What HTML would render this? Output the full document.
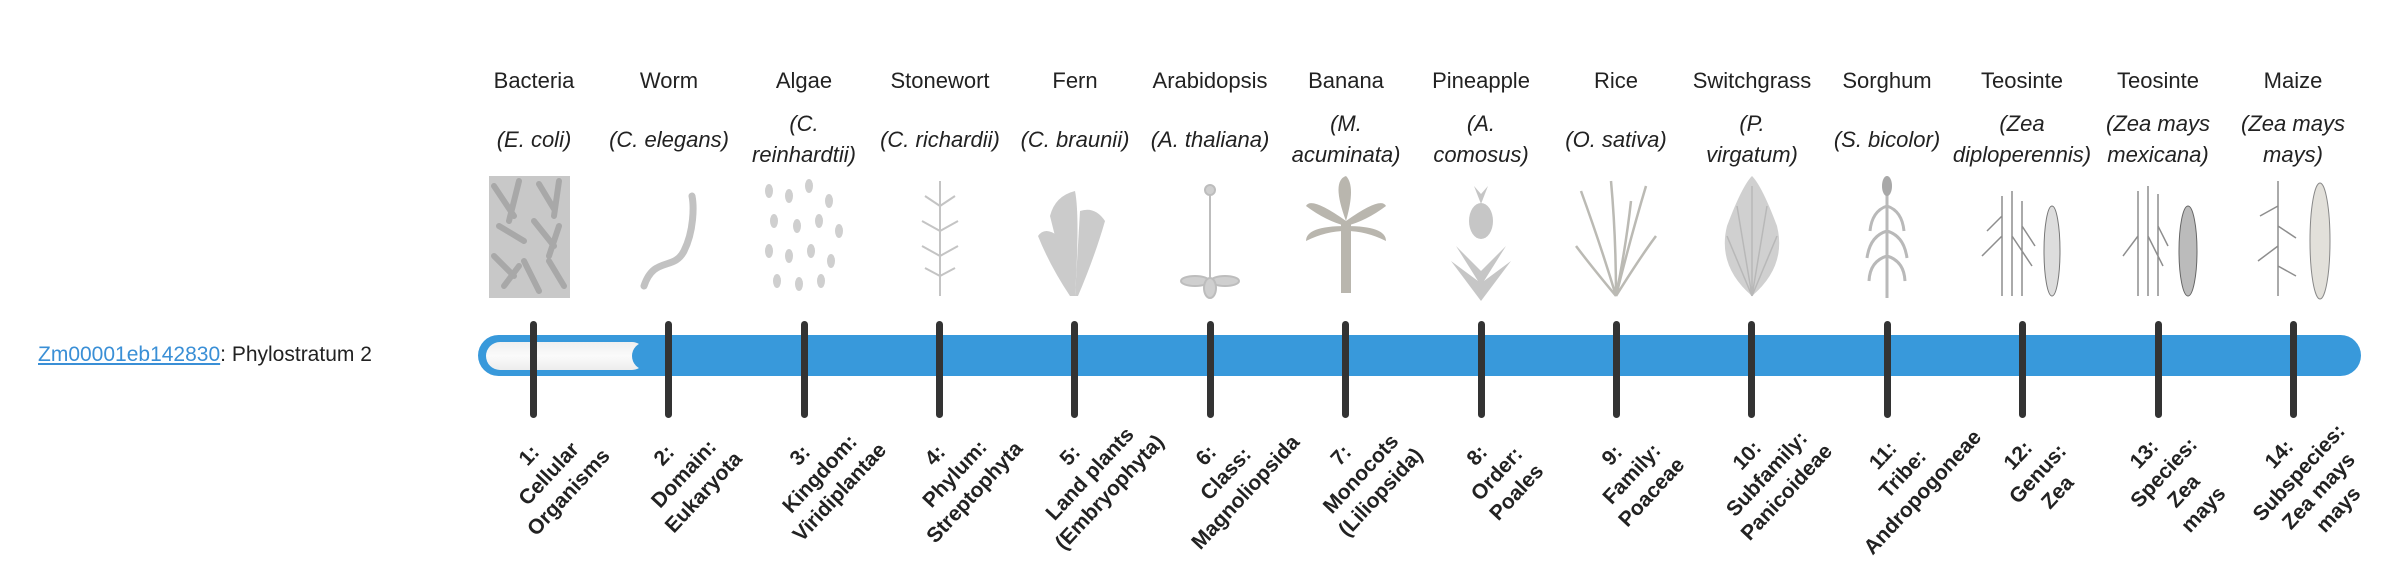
<!DOCTYPE html>
<html><head><meta charset="utf-8"><style>
html,body{margin:0;padding:0;background:#fff;width:2400px;height:580px;overflow:hidden;position:relative;font-family:"Liberation Sans",sans-serif;color:#222}
.h{position:absolute;top:67px;width:140px;text-align:center;font-size:22px;line-height:28px}
.s{position:absolute;top:104px;height:70px;width:150px;display:flex;align-items:center;justify-content:center;text-align:center;font-size:22px;line-height:31px;font-style:italic}
.img{position:absolute;top:176px;width:90px;height:126px}
.t{position:absolute;top:321px;width:7px;height:97px;background:#333;border-radius:4px}
.l{position:absolute;top:474px;width:180px;text-align:center;font-weight:bold;font-size:21px;line-height:27px;color:#222;transform:translate(-50%,-50%) rotate(-47deg)}
</style></head><body>
<div style="position:absolute;left:38px;top:341px;font-size:21px;line-height:28px"><span style="color:#3a8fd6;text-decoration:underline">Zm00001eb142830</span>: Phylostratum 2</div>
<div style="position:absolute;left:478px;top:335px;width:1883px;height:41px;background:#3899db;border-radius:21px"></div>
<div style="position:absolute;left:486px;top:342px;width:160px;height:28px;background:linear-gradient(#f0f0f0,#fafafa 50%,#ededed);border-radius:14px"></div>
<div style="position:absolute;left:632px;top:342px;width:30px;height:28px;background:#3899db;border-radius:14px 0 0 14px"></div>

<div class="h" style="left:464px">Bacteria</div><div class="s" style="left:459px">(E. coli)</div>
<div class="h" style="left:599px">Worm</div><div class="s" style="left:594px">(C. elegans)</div>
<div class="h" style="left:734px">Algae</div><div class="s" style="left:729px">(C.<br>reinhardtii)</div>
<div class="h" style="left:870px">Stonewort</div><div class="s" style="left:865px">(C. richardii)</div>
<div class="h" style="left:1005px">Fern</div><div class="s" style="left:1000px">(C. braunii)</div>
<div class="h" style="left:1140px">Arabidopsis</div><div class="s" style="left:1135px">(A. thaliana)</div>
<div class="h" style="left:1276px">Banana</div><div class="s" style="left:1271px">(M.<br>acuminata)</div>
<div class="h" style="left:1411px">Pineapple</div><div class="s" style="left:1406px">(A.<br>comosus)</div>
<div class="h" style="left:1546px">Rice</div><div class="s" style="left:1541px">(O. sativa)</div>
<div class="h" style="left:1682px">Switchgrass</div><div class="s" style="left:1677px">(P.<br>virgatum)</div>
<div class="h" style="left:1817px">Sorghum</div><div class="s" style="left:1812px">(S. bicolor)</div>
<div class="h" style="left:1952px">Teosinte</div><div class="s" style="left:1947px">(Zea<br>diploperennis)</div>
<div class="h" style="left:2088px">Teosinte</div><div class="s" style="left:2083px">(Zea mays<br>mexicana)</div>
<div class="h" style="left:2223px">Maize</div><div class="s" style="left:2218px">(Zea mays<br>mays)</div>

<svg class="img" style="left:489px" viewBox="0 0 90 126"><rect x="0" y="0" width="81" height="122" fill="#c8c8c8"/><g stroke="#a8a8a8" stroke-width="6" stroke-linecap="round"><path d="M5 10l20 30M30 5l-10 40M50 8l15 25M70 5l-5 35M10 50l25 15M45 45l20 25M70 50l-10 30M5 80l20 20M35 85l15 30M60 85l15 25M15 110l15-20"/></g></svg>
<svg class="img" style="left:624px" viewBox="0 0 90 126"><path d="M20 110 C30 80,50 95,60 75 S70 30,68 20" stroke="#c2c2c2" stroke-width="7" fill="none" stroke-linecap="round"/></svg>
<svg class="img" style="left:759px" viewBox="0 0 90 126"><g fill="#cfcfcf"><ellipse cx="10" cy="15" rx="4" ry="7"/><ellipse cx="30" cy="20" rx="4" ry="7"/><ellipse cx="50" cy="10" rx="4" ry="7"/><ellipse cx="70" cy="25" rx="4" ry="7"/><ellipse cx="15" cy="45" rx="4" ry="7"/><ellipse cx="38" cy="50" rx="4" ry="7"/><ellipse cx="60" cy="45" rx="4" ry="7"/><ellipse cx="80" cy="55" rx="4" ry="7"/><ellipse cx="10" cy="75" rx="4" ry="7"/><ellipse cx="30" cy="80" rx="4" ry="7"/><ellipse cx="52" cy="75" rx="4" ry="7"/><ellipse cx="72" cy="85" rx="4" ry="7"/><ellipse cx="18" cy="105" rx="4" ry="7"/><ellipse cx="40" cy="108" rx="4" ry="7"/><ellipse cx="62" cy="105" rx="4" ry="7"/></g></svg>
<svg class="img" style="left:895px" viewBox="0 0 90 126"><g stroke="#c4c4c4" stroke-width="2" fill="none"><path d="M45 5V120M45 30l-15-10M45 30l15-10M45 55l-18-10M45 55l18-10M45 80l-18-10M45 80l18-10M45 100l-15-8M45 100l15-8"/></g></svg>
<svg class="img" style="left:1030px" viewBox="0 0 90 126"><g fill="#cbcbcb"><path d="M40 120 L20 40 Q25 20 45 15 Q50 40 45 120Z"/><path d="M45 120 L50 35 Q65 30 75 45 Q65 80 48 120Z"/><path d="M40 120 Q20 90 8 60 Q15 50 28 60 Q38 90 42 120Z"/></g></svg>
<svg class="img" style="left:1165px" viewBox="0 0 90 126"><g stroke="#bdbdbd" stroke-width="2" fill="#cfcfcf"><path d="M45 15V105" fill="none"/><ellipse cx="30" cy="105" rx="14" ry="5"/><ellipse cx="60" cy="105" rx="14" ry="5"/><ellipse cx="45" cy="112" rx="6" ry="10"/><circle cx="45" cy="14" r="5"/></g></svg>
<svg class="img" style="left:1301px" viewBox="0 0 90 126"><g fill="#b9b6ae"><rect x="40" y="45" width="10" height="72"/><path d="M45 45 Q10 20 5 30 Q25 45 45 50Z M45 45 Q80 20 85 30 Q65 45 45 50Z M45 45 Q30 5 45 0 Q55 10 45 45Z M45 50 Q5 50 5 65 Q25 55 45 55Z M45 50 Q85 50 85 65 Q65 55 45 55Z"/></g></svg>
<svg class="img" style="left:1436px" viewBox="0 0 90 126"><g fill="#c6c6c6"><ellipse cx="45" cy="45" rx="12" ry="18"/><path d="M45 125 L15 85 L42 105 L20 70 L45 95 L70 70 L48 105 L75 85Z"/><path d="M45 28 L38 10 L45 18 L52 10Z"/></g></svg>
<svg class="img" style="left:1571px" viewBox="0 0 90 126"><g stroke="#bbbab4" stroke-width="2.5" fill="none"><path d="M45 120 Q30 70 10 15M45 120 Q45 60 40 5M45 120 Q60 60 75 10M45 120 Q70 80 85 60M45 120 Q20 90 5 70M45 120 Q55 70 60 25"/></g></svg>
<svg class="img" style="left:1707px" viewBox="0 0 90 126"><g fill="#d0d0d0"><path d="M45 120 Q10 90 20 50 Q35 10 45 0 Q55 10 70 50 Q80 90 45 120Z"/></g><g stroke="#b8b8b8" stroke-width="1.5" fill="none"><path d="M45 120V10M45 120L20 60M45 120L70 60M45 120L30 30M45 120L60 30"/></g></svg>
<svg class="img" style="left:1842px" viewBox="0 0 90 126"><g stroke="#b9b9b9" stroke-width="3" fill="none"><path d="M45 10V122M45 30Q30 35 28 55M45 30Q60 35 62 55M45 55Q28 60 25 82M45 55Q62 60 65 82M45 80Q28 85 27 105M45 80Q62 85 63 105"/></g><ellipse cx="45" cy="10" rx="5" ry="10" fill="#a8a8a8"/></svg>
<svg class="img" style="left:1977px" viewBox="0 0 90 126"><g stroke="#8e8e8e" stroke-width="1.5" fill="none"><path d="M25 120V20M35 120V15M45 120V25M25 60L5 80M35 60L55 90M25 40L10 55M45 50L58 70"/></g><ellipse cx="75" cy="75" rx="8" ry="45" fill="#ddd" stroke="#777"/></svg>
<svg class="img" style="left:2113px" viewBox="0 0 90 126"><g stroke="#8e8e8e" stroke-width="1.5" fill="none"><path d="M25 120V15M35 120V10M45 120V18M25 60L10 80M35 60L50 90M45 50L55 70"/></g><ellipse cx="75" cy="75" rx="9" ry="45" fill="#bbb" stroke="#666"/></svg>
<svg class="img" style="left:2248px" viewBox="0 0 90 126"><g stroke="#8e8e8e" stroke-width="1.5" fill="none"><path d="M30 120V5M30 30L12 40M30 50L48 62M30 70L10 85M30 90L48 100"/></g><ellipse cx="72" cy="65" rx="10" ry="58" fill="#e2e0da" stroke="#888"/></svg>

<div class="t" style="left:530px"></div><div class="t" style="left:665px"></div><div class="t" style="left:801px"></div><div class="t" style="left:936px"></div><div class="t" style="left:1071px"></div><div class="t" style="left:1207px"></div><div class="t" style="left:1342px"></div><div class="t" style="left:1478px"></div><div class="t" style="left:1613px"></div><div class="t" style="left:1748px"></div><div class="t" style="left:1884px"></div><div class="t" style="left:2019px"></div><div class="t" style="left:2155px"></div><div class="t" style="left:2290px"></div>

<div class="l" style="left:549px">1:<br>Cellular<br>Organisms</div>
<div class="l" style="left:684px">2:<br>Domain:<br>Eukaryota</div>
<div class="l" style="left:820px">3:<br>Kingdom:<br>Viridiplantae</div>
<div class="l" style="left:955px">4:<br>Phylum:<br>Streptophyta</div>
<div class="l" style="left:1090px">5:<br>Land plants<br>(Embryophyta)</div>
<div class="l" style="left:1226px">6:<br>Class:<br>Magnoliopsida</div>
<div class="l" style="left:1361px">7:<br>Monocots<br>(Liliopsida)</div>
<div class="l" style="left:1497px">8:<br>Order:<br>Poales</div>
<div class="l" style="left:1632px">9:<br>Family:<br>Poaceae</div>
<div class="l" style="left:1767px">10:<br>Subfamily:<br>Panicoideae</div>
<div class="l" style="left:1903px">11:<br>Tribe:<br>Andropogoneae</div>
<div class="l" style="left:2038px">12:<br>Genus:<br>Zea</div>
<div class="l" style="left:2174px;top:482px">13:<br>Species:<br>Zea<br>mays</div>
<div class="l" style="left:2309px;top:482px">14:<br>Subspecies:<br>Zea mays<br>mays</div>
</body></html>
